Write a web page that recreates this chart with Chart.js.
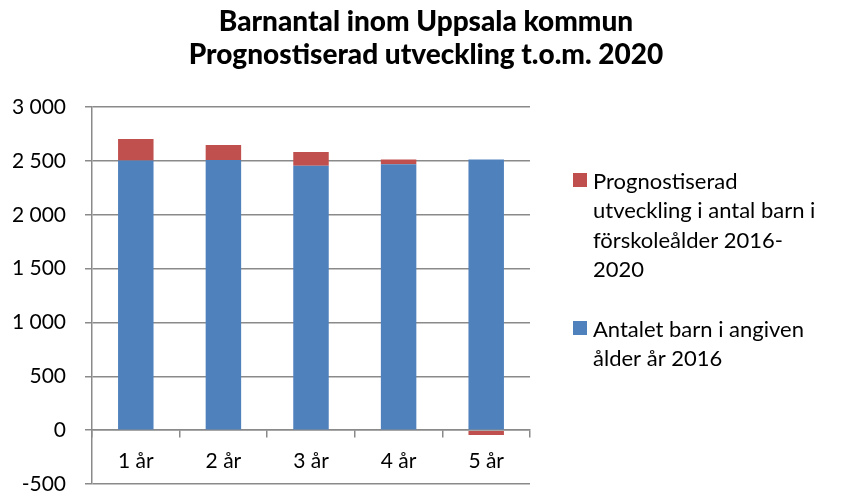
<!DOCTYPE html>
<html><head><meta charset="utf-8">
<script src="https://cdn.jsdelivr.net/npm/chart.js@4.4.1/dist/chart.umd.min.js"></script>
<style>html,body{margin:0;padding:0;background:#fff}#wrap{position:relative;width:844px;height:493px}</style>
</head><body><div id="wrap"><canvas id="c" width="844" height="493"></canvas></div>
<script>
const categories = ['1 år', '2 år', '3 år', '4 år', '5 år'];
const antal2016 = [2505, 2510, 2455, 2470, 2515];
const prognos2020 = [200, 140, 130, 45, -45];
const labelPrognos = ['Prognostiserad', 'utveckling i antal barn i', 'förskoleålder 2016-', '2020'];
const labelAntal = ['Antalet barn i angiven', 'ålder år 2016'];
const titleLines = ['Barnantal inom Uppsala kommun', 'Prognostiserad utveckling t.o.m. 2020'];

const FONT = 'Lato';
const GRID = '#8a8a8a';
const BLUE = '#4F81BD';
const RED = '#C0504D';

function fmt(v) {
  const s = String(Math.abs(v)).replace(/\B(?=(\d{3})+(?!\d))/g, ' ');
  return (v < 0 ? '-' : '') + s;
}

const sideLegend = {
  id: 'sideLegend',
  afterDraw(chart) {
    const ctx = chart.ctx;
    ctx.save();
    ctx.font = '22px ' + FONT;
    ctx.textBaseline = 'alphabetic';
    ctx.textAlign = 'left';
    const items = chart.data.datasets.slice().reverse();
    const tops = [173, 321];
    items.forEach((ds, i) => {
      const top = tops[i];
      ctx.fillStyle = ds.backgroundColor;
      ctx.fillRect(573, top, 14, 14);
      ctx.fillStyle = '#000';
      ds.legendLines.forEach((ln, j) => {
        ctx.fillText(ln, 593, top + 16 + j * 29.3);
      });
    });
    ctx.restore();
  }
};

new Chart(document.getElementById('c'), {
  type: 'bar',
  data: {
    labels: categories,
    datasets: [
      { label: labelAntal.join(' '), legendLines: labelAntal, data: antal2016, backgroundColor: BLUE, borderWidth: 0 },
      { label: labelPrognos.join(' '), legendLines: labelPrognos, data: prognos2020, backgroundColor: RED, borderWidth: 0 }
    ]
  },
  plugins: [sideLegend],
  options: {
    responsive: false,
    devicePixelRatio: 1,
    animation: false,
    layout: { padding: { left: 8, right: 0, top: 0, bottom: 9 } },
    datasets: { bar: { barPercentage: 1, categoryPercentage: 0.405 } },
    plugins: {
      legend: { display: false },
      tooltip: { enabled: false },
      title: {
        display: true,
        text: titleLines,
        color: '#000',
        font: { family: FONT, size: 28, weight: '900', lineHeight: 1.2 },
        padding: { top: 5, bottom: 35 }
      }
    },
    scales: {
      x: {
        stacked: true,
        position: { y: 0 },
        grid: { display: true, drawOnChartArea: false, drawTicks: true, tickLength: 7, color: GRID, lineWidth: 1.5, offset: true },
        border: { display: true, color: GRID, width: 1.5 },
        ticks: { color: '#000', font: { family: FONT, size: 21 }, padding: 11 },
        afterFit(s) { s.height = 0; }
      },
      y: {
        stacked: true,
        min: -500,
        max: 3000,
        grid: { color: GRID, lineWidth: 1.5, tickLength: 7 },
        border: { display: true, color: GRID, width: 1.5 },
        ticks: { stepSize: 500, color: '#000', font: { family: FONT, size: 21 }, padding: 19, callback: v => fmt(v) },
        afterFit(s) { s.width = 84; s.paddingTop = 0; s.paddingBottom = 0; }
      },
      y2: {
        position: 'right',
        display: true,
        grid: { display: false, drawTicks: false },
        border: { display: false },
        ticks: { display: false },
        afterFit(s) { s.width = 314; s.paddingTop = 0; s.paddingBottom = 0; }
      }
    }
  }
});
</script>
</body></html>
